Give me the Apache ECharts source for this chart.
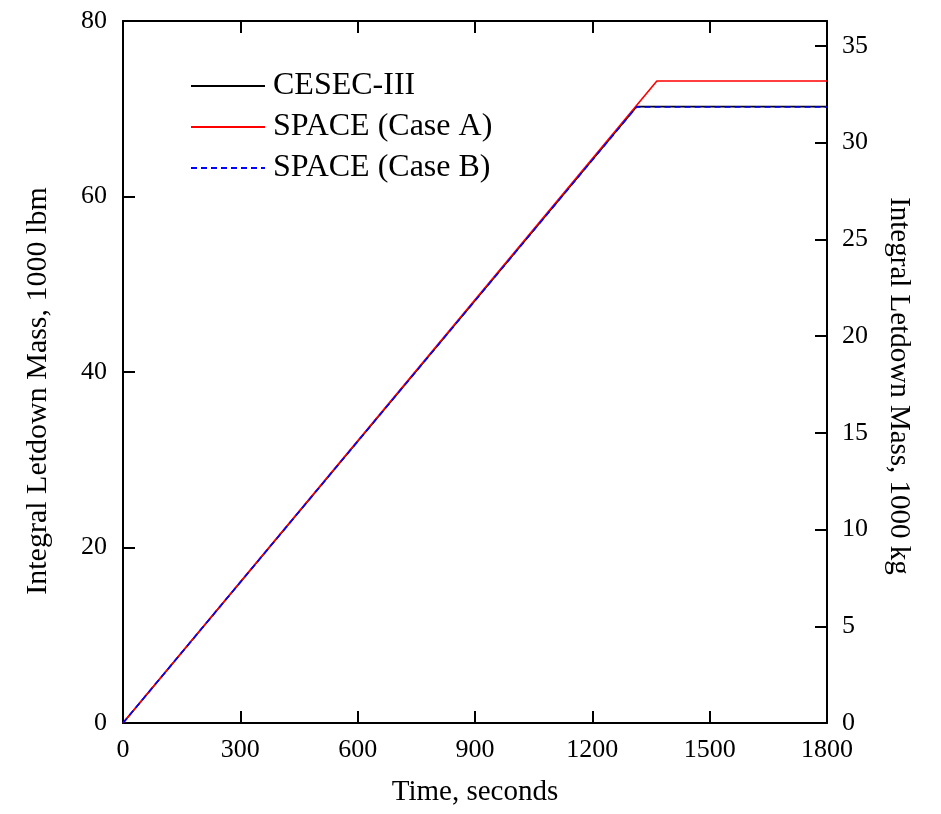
<!DOCTYPE html>
<html>
<head>
<meta charset="utf-8">
<script src="https://cdn.jsdelivr.net/npm/echarts@6/dist/echarts.min.js"></script>
<style>
html,body{margin:0;padding:0;background:#fff;}
#chart{width:941px;height:814px;}
</style>
</head>
<body>
<div id="chart"></div>
<script>
// Data
var seriesNames = ['CESEC-III', 'SPACE (Case A)', 'SPACE (Case B)'];
var cesecTime = [0, 1313, 1800];
var cesecMass = [0, 70.24, 70.24];
var caseATime = [0, 1365, 1800];
var caseAMass = [0, 73.17, 73.17];
var caseBTime = [0, 1313, 1800];
var caseBMass = [0, 70.2, 70.2];
var xTicks = [0, 300, 600, 900, 1200, 1500, 1800];
var leftTicks = [0, 20, 40, 60, 80];
var rightTicks = [0, 5, 10, 15, 20, 25, 30, 35];
var LBM_TO_KG = 0.45359237;

function pairs(t, v) { return t.map(function (x, i) { return [x, v[i]]; }); }

var FONT = "'Liberation Serif','Times New Roman',serif";
var chart = echarts.init(document.getElementById('chart'), null, {renderer: 'canvas'});
var axisLine = {show: true, onZero: false, lineStyle: {color: '#000', width: 2}};
var tickIn = {show: true, inside: true, length: 12, lineStyle: {color: '#000', width: 2}};
var lblStyle = {color: '#000', fontFamily: FONT, fontSize: 26};

chart.setOption({
  animation: false,
  backgroundColor: '#fff',
  grid: {left: 123, right: 114, top: 21, bottom: 91, containLabel: false},
  legend: {
    orient: 'vertical', left: 190, top: 70, padding: 0,
    itemWidth: 74, itemHeight: 6, itemGap: 9,
    itemStyle: {opacity: 0},
    textStyle: {color: '#000', fontFamily: FONT, fontSize: 32, lineHeight: 32, padding: [0, 0, 0, 3]},
    data: seriesNames
  },
  xAxis: [{
    type: 'value', min: xTicks[0], max: xTicks[xTicks.length - 1], interval: xTicks[1] - xTicks[0],
    position: 'bottom',
    name: 'Time, seconds', nameLocation: 'middle', nameGap: 55,
    nameTextStyle: {color: '#000', fontFamily: FONT, fontSize: 29},
    axisLine: axisLine, axisTick: tickIn,
    axisLabel: Object.assign({margin: 14, formatter: function (v) { return String(v); }}, lblStyle),
    splitLine: {show: false}
  }, {
    type: 'value', min: xTicks[0], max: xTicks[xTicks.length - 1], interval: xTicks[1] - xTicks[0],
    position: 'top',
    axisLine: axisLine, axisTick: tickIn,
    axisLabel: {show: false}, splitLine: {show: false}
  }],
  yAxis: [{
    type: 'value', min: leftTicks[0], max: leftTicks[leftTicks.length - 1], interval: leftTicks[1] - leftTicks[0],
    position: 'left',
    axisLine: axisLine, axisTick: tickIn,
    axisLabel: Object.assign({margin: 16, formatter: function (v) { return String(v); }}, lblStyle),
    splitLine: {show: false}
  }, {
    type: 'value', min: 0, max: leftTicks[leftTicks.length - 1] * LBM_TO_KG, interval: rightTicks[1] - rightTicks[0],
    position: 'right',
    axisLine: axisLine, axisTick: tickIn,
    axisLabel: Object.assign({margin: 15, showMaxLabel: false,
      formatter: function (v) { return rightTicks.indexOf(v) >= 0 ? String(v) : ''; }}, lblStyle),
    splitLine: {show: false}
  }],
  graphic: [{
    type: 'text', x: 38, y: 391, rotation: Math.PI / 2,
    style: {text: 'Integral Letdown Mass, 1000 lbm', fill: '#000', font: '30px ' + FONT,
      align: 'center', verticalAlign: 'middle'}
  }, {
    type: 'text', x: 899, y: 386, rotation: -Math.PI / 2,
    style: {text: 'Integral Letdown Mass, 1000 kg', fill: '#000', font: '29px ' + FONT,
      align: 'center', verticalAlign: 'middle'}
  }],
  series: [{
    name: seriesNames[0], type: 'line', symbol: 'none', data: pairs(cesecTime, cesecMass),
    lineStyle: {color: '#000', width: 1.6}, itemStyle: {color: '#000'}
  }, {
    name: seriesNames[1], type: 'line', symbol: 'none', data: pairs(caseATime, caseAMass),
    lineStyle: {color: '#ff0000', width: 1.6}, itemStyle: {color: '#ff0000'}
  }, {
    name: seriesNames[2], type: 'line', symbol: 'none', data: pairs(caseBTime, caseBMass),
    lineStyle: {color: '#0000ff', width: 1.6, type: [6, 4]}, itemStyle: {color: '#0000ff'}
  }]
});
</script>
</body>
</html>
